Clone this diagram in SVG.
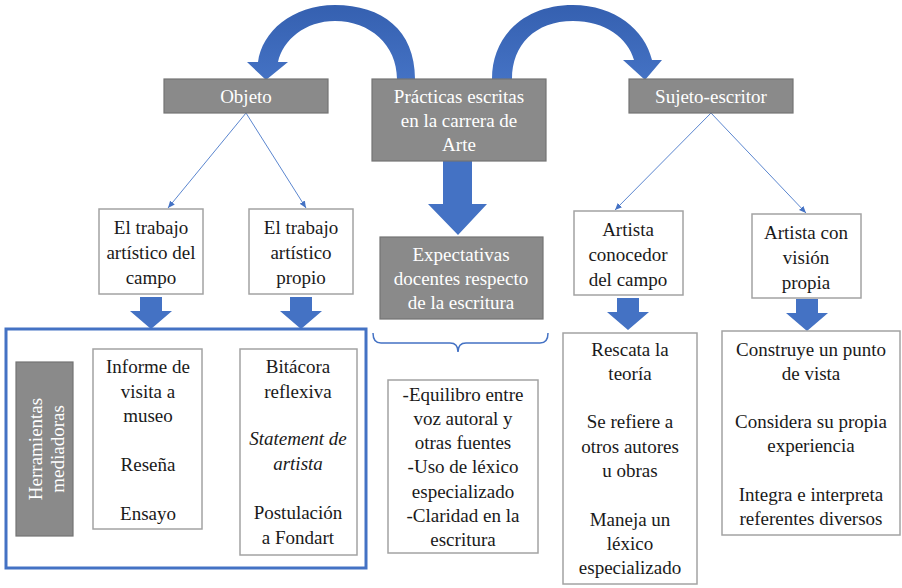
<svg xmlns="http://www.w3.org/2000/svg" width="902" height="588" viewBox="0 0 902 588">
<style>
  .gray{fill:#8a8a8a;stroke:#747474;stroke-width:1.2}
  .white{fill:#ffffff;stroke:#a3a3a3;stroke-width:1.5}
  text{font-family:'Liberation Serif','DejaVu Serif','Noto Serif',serif;font-size:19px;text-anchor:middle}
  .t{fill:#1a1a1a}
  .tw{fill:#ffffff}
  .blk{fill:#4472c4}
  .thin{stroke:#5b86cf;stroke-width:1;fill:none;marker-end:url(#ah)}
</style>
<defs>
  <marker id="ah" markerWidth="8" markerHeight="8" refX="7" refY="4" orient="auto" markerUnits="userSpaceOnUse">
    <path d="M0,1 L7,4 L0,7 Z" fill="#4472c4"/>
  </marker>
  <linearGradient id="arcg" x1="0" y1="0" x2="0" y2="1">
    <stop offset="0" stop-color="#3560b0"/>
    <stop offset="1" stop-color="#4472c4"/>
  </linearGradient>
  <path id="sdown" d="M -11 0 H 11 V 14 H 21 L 0 32 L -21 14 H -11 Z"/>
</defs>
<rect width="902" height="588" fill="#ffffff"/>

<g id="connectors">
  <path d="M 415 79 C 415 30 382 5 335 5 C 292 5 262 32 258 62 L 247 62 L 266 80 L 288 62 L 278 62 C 283 40 305 21 335 21 C 370 21 397 45 397 79 Z" fill="url(#arcg)"/>
  <path d="M 492 79 C 492 35 525 5 573 5 C 615 5 645 30 652 60 L 662 60 L 645 80 L 623 60 L 634 60 C 628 38 605 21 573 21 C 535 21 512 45 512 79 Z" fill="url(#arcg)"/>
  <path class="blk" d="M 443 161 H 472 V 204 H 487 L 458 235 L 428 204 H 443 Z"/>
  <line class="thin" x1="246" y1="113" x2="168" y2="208"/>
  <line class="thin" x1="246" y1="113" x2="306" y2="208"/>
  <line class="thin" x1="711" y1="113" x2="615" y2="210"/>
  <line class="thin" x1="711" y1="113" x2="806" y2="213"/>
  <use href="#sdown" class="blk" transform="translate(151,297)"/>
  <use href="#sdown" class="blk" transform="translate(301,297)"/>
  <use href="#sdown" class="blk" transform="translate(628,298)"/>
  <use href="#sdown" class="blk" transform="translate(807,299)"/>
  <path d="M 373 333 Q 373 343 381 343 H 450 Q 458 343 458 352 Q 458 343 466 343 H 540 Q 548 343 548 333" fill="none" stroke="#4472c4" stroke-width="1.5"/>
</g>

<g id="objeto">
  <rect class="gray" x="164" y="79" width="164" height="34"/>
  <text class="tw" x="246" y="103">Objeto</text>
</g>
<g id="practicas">
  <rect class="gray" x="372" y="79" width="174" height="82"/>
  <text class="tw" x="459" y="103">Prácticas escritas</text>
  <text class="tw" x="459" y="127">en la carrera de</text>
  <text class="tw" x="459" y="151">Arte</text>
</g>
<g id="sujeto">
  <rect class="gray" x="629" y="79" width="164" height="34"/>
  <text class="tw" x="711" y="103">Sujeto-escritor</text>
</g>

<g id="trabajo-campo">
  <rect class="white" x="99" y="209" width="104" height="85"/>
  <text class="t" x="151" y="234">El trabajo</text>
  <text class="t" x="151" y="259">artístico del</text>
  <text class="t" x="151" y="284">campo</text>
</g>
<g id="trabajo-propio">
  <rect class="white" x="249" y="209" width="104" height="85"/>
  <text class="t" x="301" y="234">El trabajo</text>
  <text class="t" x="301" y="259">artístico</text>
  <text class="t" x="301" y="284">propio</text>
</g>
<g id="expectativas">
  <rect class="gray" x="380" y="237" width="163" height="82"/>
  <text class="tw" x="461" y="261">Expectativas</text>
  <text class="tw" x="461" y="285">docentes respecto</text>
  <text class="tw" x="461" y="309">de la escritura</text>
</g>
<g id="artista-conocedor">
  <rect class="white" x="574" y="211" width="109" height="84"/>
  <text class="t" x="628" y="236">Artista</text>
  <text class="t" x="628" y="261">conocedor</text>
  <text class="t" x="628" y="286">del campo</text>
</g>
<g id="artista-vision">
  <rect class="white" x="752" y="214" width="109" height="84"/>
  <text class="t" x="806" y="239">Artista con</text>
  <text class="t" x="806" y="264">visión</text>
  <text class="t" x="806" y="289">propia</text>
</g>

<g id="herramientas-grupo">
  <rect x="6" y="329" width="360" height="239" fill="none" stroke="#4472c4" stroke-width="3"/>
  <g id="herramientas">
    <rect class="gray" x="16" y="362" width="57" height="174"/>
    <text class="tw" transform="translate(42,449) rotate(-90)" x="0" y="0">Herramientas</text>
    <text class="tw" transform="translate(64,449) rotate(-90)" x="0" y="0">mediadoras</text>
  </g>
  <g id="informe">
    <rect class="white" x="93" y="349" width="109" height="180"/>
    <text class="t" x="148" y="373">Informe de</text>
    <text class="t" x="148" y="398">visita a</text>
    <text class="t" x="148" y="422">museo</text>
    <text class="t" x="148" y="471">Reseña</text>
    <text class="t" x="148" y="520">Ensayo</text>
  </g>
  <g id="bitacora">
    <rect class="white" x="240" y="349" width="117" height="206"/>
    <text class="t" x="298" y="373">Bitácora</text>
    <text class="t" x="298" y="398">reflexiva</text>
    <text class="t" x="298" y="445" font-style="italic">Statement de</text>
    <text class="t" x="298" y="470" font-style="italic">artista</text>
    <text class="t" x="298" y="519">Postulación</text>
    <text class="t" x="298" y="544">a Fondart</text>
  </g>
</g>

<g id="expectativas-lista">
  <rect class="white" x="388" y="380" width="150" height="173"/>
  <text class="t" x="463" y="401">-Equilibro entre</text>
  <text class="t" x="463" y="425">voz autoral y</text>
  <text class="t" x="463" y="449">otras fuentes</text>
  <text class="t" x="463" y="473">-Uso de léxico</text>
  <text class="t" x="463" y="498">especializado</text>
  <text class="t" x="463" y="522">-Claridad en la</text>
  <text class="t" x="463" y="546">escritura</text>
</g>

<g id="rescata">
  <rect class="white" x="563" y="333" width="134" height="251"/>
  <text class="t" x="630" y="356">Rescata la</text>
  <text class="t" x="630" y="380">teoría</text>
  <text class="t" x="630" y="428">Se refiere a</text>
  <text class="t" x="630" y="453">otros autores</text>
  <text class="t" x="630" y="477">u obras</text>
  <text class="t" x="630" y="526">Maneja un</text>
  <text class="t" x="630" y="550">léxico</text>
  <text class="t" x="630" y="574">especializado</text>
</g>

<g id="construye">
  <rect class="white" x="722" y="331" width="178" height="204"/>
  <text class="t" x="811" y="356">Construye un punto</text>
  <text class="t" x="811" y="380">de vista</text>
  <text class="t" x="811" y="428">Considera su propia</text>
  <text class="t" x="811" y="452">experiencia</text>
  <text class="t" x="811" y="501">Integra e interpreta</text>
  <text class="t" x="811" y="525">referentes diversos</text>
</g>
</svg>
